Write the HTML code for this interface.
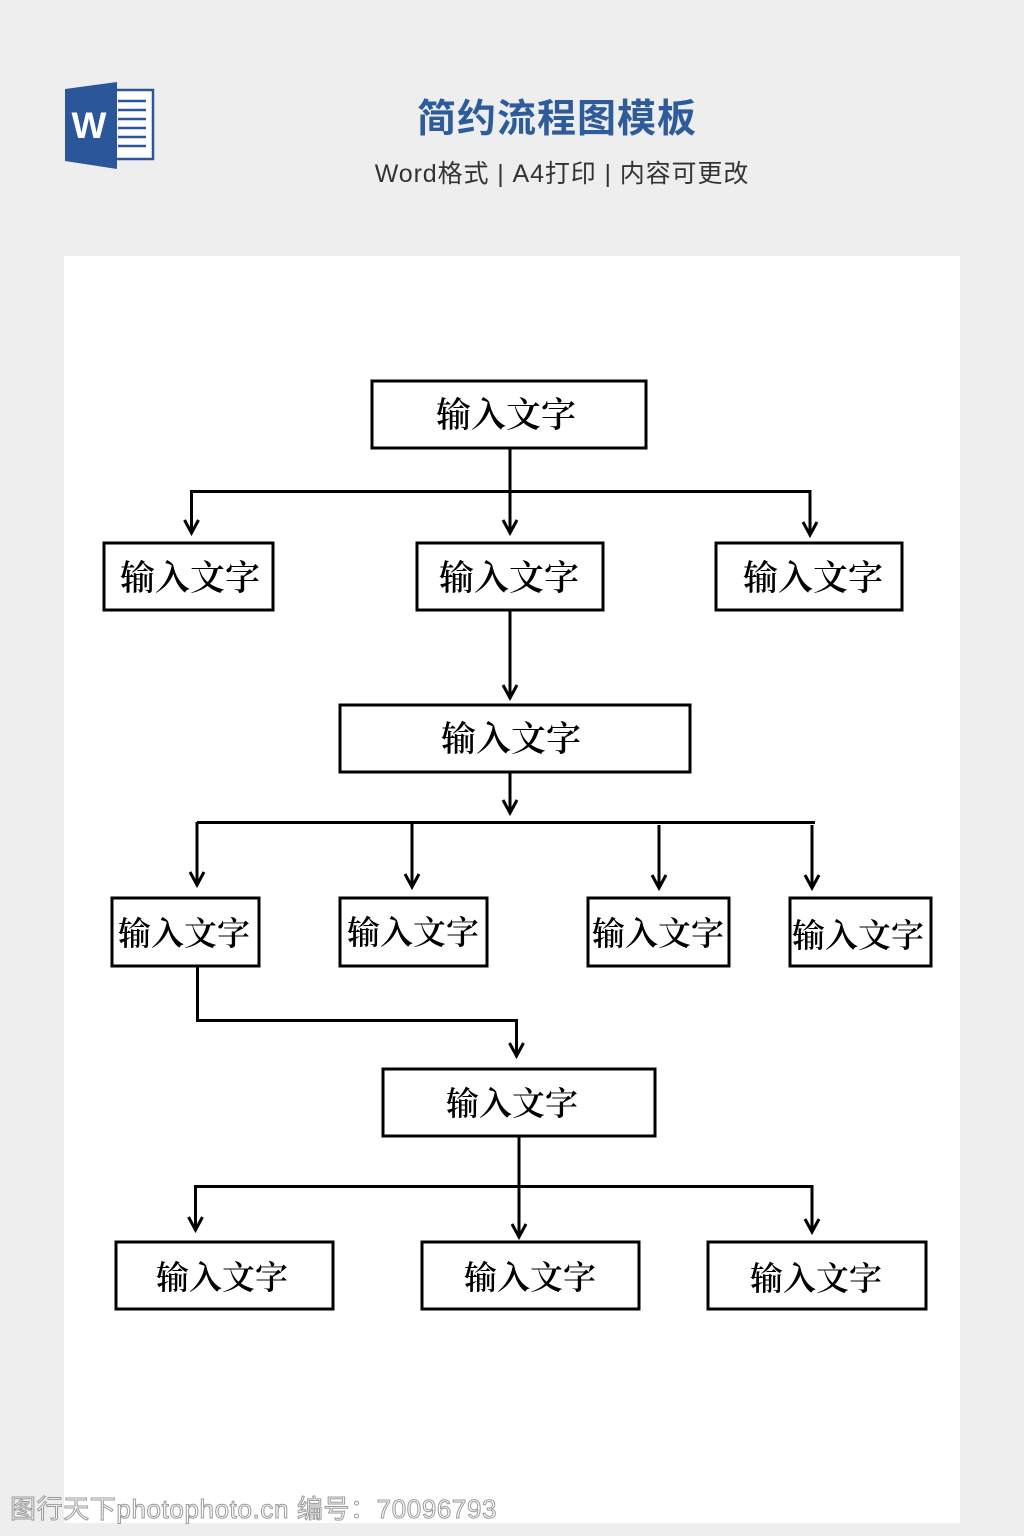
<!DOCTYPE html>
<html>
<head>
<meta charset="utf-8">
<style>
html,body{margin:0;padding:0;}
body{width:1024px;height:1536px;background:#eeeeee;position:relative;overflow:hidden;}
.page{position:absolute;left:64px;top:256px;width:896px;height:1267px;background:#ffffff;}
.title{position:absolute;left:357px;width:400px;top:95px;text-align:center;font-family:"Liberation Sans","Noto Sans CJK SC",sans-serif;font-weight:bold;font-size:39px;color:#2e5b9a;letter-spacing:1px;line-height:50px;}
.sub{position:absolute;left:262px;width:600px;top:157px;text-align:center;font-family:"Liberation Sans","Noto Sans CJK SC",sans-serif;font-size:25px;color:#333;line-height:34px;letter-spacing:0.9px;}
.wm{position:absolute;left:10px;top:1493px;font-family:"Liberation Sans","Noto Sans CJK SC",sans-serif;font-size:26px;color:rgba(255,255,255,0.6);-webkit-text-stroke:1px #9a9a9a;line-height:32px;letter-spacing:0.6px;}
svg{position:absolute;left:0;top:0;}
</style>
</head>
<body>
<div class="page"></div>

<svg width="1024" height="1536" viewBox="0 0 1024 1536">
  <!-- Word icon -->
  <rect x="114" y="90" width="39" height="69" fill="#ffffff" stroke="#2b579a" stroke-width="2.5"/>
  <g stroke="#2b579a" stroke-width="2.6">
    <line x1="118" y1="101" x2="146" y2="101"/>
    <line x1="118" y1="110" x2="146" y2="110"/>
    <line x1="118" y1="119" x2="146" y2="119"/>
    <line x1="118" y1="128" x2="146" y2="128"/>
    <line x1="118" y1="137" x2="146" y2="137"/>
    <line x1="118" y1="146" x2="146" y2="146"/>
  </g>
  <polygon points="65,89 117,82 117,169 65,161" fill="#2b579a"/>
  <text x="89" y="138" text-anchor="middle" font-family="Liberation Sans, sans-serif" font-weight="bold" font-size="37" fill="#ffffff">W</text>

  <!-- connectors -->
  <g stroke="#000" stroke-width="3" fill="none" stroke-linecap="butt">
    <line x1="510" y1="449" x2="510" y2="532"/>
    <polyline points="191.5,532 191.5,491.5 810,491.5 810,533"/>
    <line x1="510" y1="610" x2="510" y2="697"/>
    <line x1="510" y1="772" x2="510" y2="812"/>
    <line x1="197" y1="822.5" x2="815" y2="822.5"/>
    <line x1="197" y1="822" x2="197" y2="884"/>
    <line x1="412" y1="822" x2="412" y2="886"/>
    <line x1="659" y1="825" x2="659" y2="887"/>
    <line x1="812" y1="825" x2="812" y2="887"/>
    <polyline points="197.5,966 197.5,1020.5 516.5,1020.5 516.5,1055"/>
    <line x1="519" y1="1136" x2="519" y2="1236"/>
    <polyline points="195.5,1229 195.5,1186.5 812,1186.5 812,1231"/>
  </g>
  <!-- arrowheads -->
  <g stroke="#000" stroke-width="3" fill="none" stroke-linejoin="miter">
    <polyline points="184.5,520 191.5,533 198.5,520"/>
    <polyline points="503,520 510,533 517,520"/>
    <polyline points="803,522 810,535 817,522"/>
    <polyline points="503,685 510,698 517,685"/>
    <polyline points="503,800 510,813 517,800"/>
    <polyline points="190,872 197,885 204,872"/>
    <polyline points="405,874 412,887 419,874"/>
    <polyline points="652,875 659,888 666,875"/>
    <polyline points="805,875 812,888 819,875"/>
    <polyline points="509.5,1043 516.5,1056 523.5,1043"/>
    <polyline points="188.5,1217 195.5,1230 202.5,1217"/>
    <polyline points="512,1224 519,1237 526,1224"/>
    <polyline points="805,1219 812,1232 819,1219"/>
  </g>

  <!-- boxes -->
  <g stroke="#000" stroke-width="3" fill="#fff">
    <rect x="372" y="381" width="274" height="67"/>
    <rect x="104" y="543" width="169" height="67"/>
    <rect x="417" y="543" width="186" height="67"/>
    <rect x="716" y="543" width="186" height="67"/>
    <rect x="340" y="705" width="350" height="67"/>
    <rect x="112" y="898" width="147" height="68"/>
    <rect x="340" y="898" width="147" height="68"/>
    <rect x="588" y="898" width="141" height="68"/>
    <rect x="790" y="898" width="141" height="68"/>
    <rect x="383" y="1069" width="272" height="67"/>
    <rect x="116" y="1242" width="217" height="67"/>
    <rect x="422" y="1242" width="217" height="67"/>
    <rect x="708" y="1242" width="218" height="67"/>
  </g>

  <!-- labels -->
  <g font-family="Liberation Serif, Noto Serif CJK SC, serif" font-weight="600" fill="#000" text-anchor="middle">
    <text x="506" y="427" font-size="35">输入文字</text>
    <text x="190" y="590" font-size="35">输入文字</text>
    <text x="509" y="590" font-size="35">输入文字</text>
    <text x="813" y="590" font-size="35">输入文字</text>
    <text x="511" y="751" font-size="35">输入文字</text>
    <text x="184" y="945" font-size="33">输入文字</text>
    <text x="413" y="944" font-size="33">输入文字</text>
    <text x="658" y="945" font-size="33">输入文字</text>
    <text x="858" y="947" font-size="33">输入文字</text>
    <text x="512" y="1115" font-size="33">输入文字</text>
    <text x="222" y="1289" font-size="33">输入文字</text>
    <text x="530" y="1289" font-size="33">输入文字</text>
    <text x="816" y="1290" font-size="33">输入文字</text>
  </g>
</svg>

<div class="title">简约流程图模板</div>
<div class="sub">Word格式 | A4打印 | 内容可更改</div>
<div class="wm">图行天下photophoto.cn 编号：70096793</div>
</body>
</html>
